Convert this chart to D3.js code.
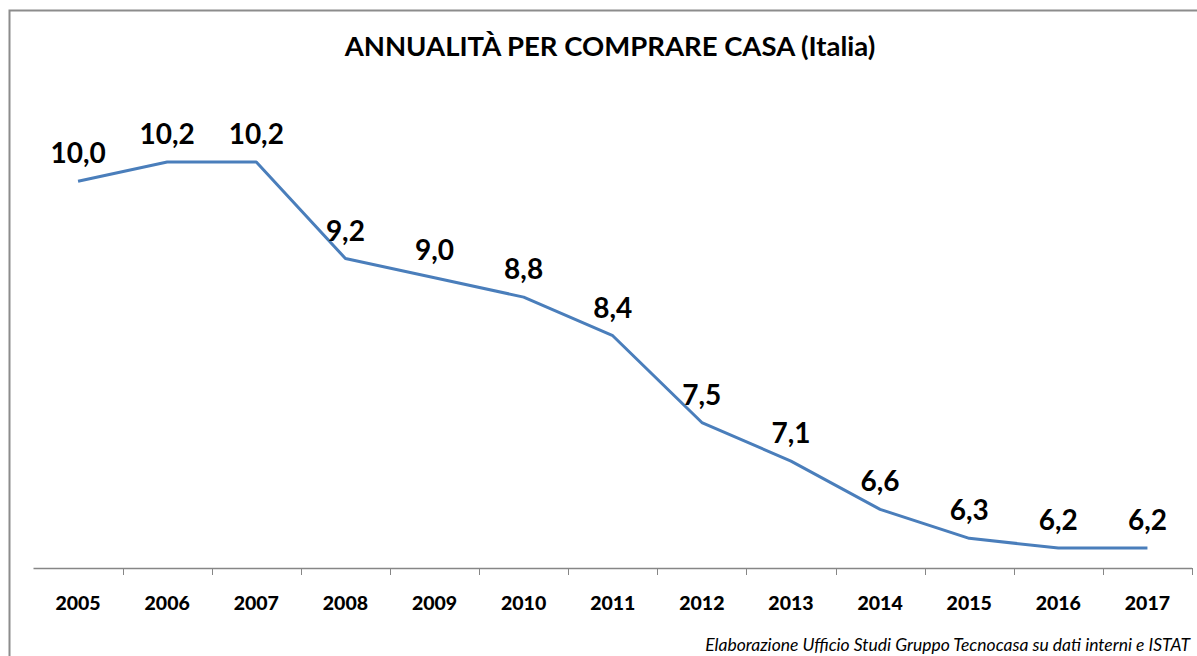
<!DOCTYPE html>
<html><head><meta charset="utf-8">
<script src="https://cdn.jsdelivr.net/npm/d3@7"></script>
<style>html,body{margin:0;padding:0;background:#fff;}svg{display:block;}</style>
</head><body>
<svg id="c" width="1197" height="656"></svg>
<script>
const years = ["2005","2006","2007","2008","2009","2010","2011","2012","2013","2014","2015","2016","2017"];
const values = [10.0,10.2,10.2,9.2,9.0,8.8,8.4,7.5,7.1,6.6,6.3,6.2,6.2];
const labels = ["10,0","10,2","10,2","9,2","9,0","8,8","8,4","7,5","7,1","6,6","6,3","6,2","6,2"];
const title = "ANNUALITÀ PER COMPRARE CASA (Italia)";
const source = "Elaborazione Ufficio Studi Gruppo Tecnocasa su dati interni e ISTAT";

const svg = d3.select("#c");
const font = "Lato, 'Open Sans', sans-serif";

// frame
svg.append("rect").attr("x",9.5).attr("y",10.5).attr("width",1200).attr("height",700)
  .attr("fill","none").attr("stroke","#8c8c8c").attr("stroke-width",2);

const x = d3.scaleBand().domain(years).range([33.5,1192]);
const y = d3.scaleLinear().domain([6.0,10.6]).range([567.3,567.3-4.6*96.5]);

const gx = svg.append("g").attr("transform","translate(0,568)");
gx.append("line").attr("x1",33.5).attr("x2",1192).attr("y1",0.5).attr("y2",0.5).attr("stroke","#868686").attr("stroke-width",1.5);
const bounds = years.map(d=>x(d)).concat([x(years[years.length-1])+x.bandwidth()]);
gx.selectAll("line.t").data(bounds.slice(1)).enter().append("line").attr("class","t")
  .attr("x1",d=>Math.round(d)+0.5).attr("x2",d=>Math.round(d)+0.5).attr("y1",0).attr("y2",7)
  .attr("stroke","#868686").attr("stroke-width",1);
gx.selectAll("text.yl").data(years).enter().append("text").attr("class","yl")
  .attr("x",d=>x(d)+x.bandwidth()/2).attr("y",42)
  .attr("text-anchor","middle").attr("font-family",font).attr("font-weight","900")
  .attr("font-size",19.5).attr("fill","#000").text(d=>d);

const line = d3.line().x((d,i)=>x(years[i])+x.bandwidth()/2).y(d=>y(d));
svg.append("path").datum(values).attr("d",line).attr("fill","none")
  .attr("stroke","#4a7ebb").attr("stroke-width",3).attr("stroke-linejoin","round");

svg.selectAll("text.v").data(values).enter().append("text").attr("class","v")
  .attr("x",(d,i)=>x(years[i])+x.bandwidth()/2).attr("y",d=>y(d)-18)
  .attr("text-anchor","middle").attr("font-family",font).attr("font-weight","bold")
  .attr("font-size",28).attr("fill","#000").text((d,i)=>labels[i]);

svg.append("text").attr("x",610).attr("y",56).attr("text-anchor","middle")
  .attr("font-family",font).attr("font-weight","bold").attr("font-size",27.5).attr("fill","#000").text(title);

svg.append("text").attr("x",1190).attr("y",651).attr("text-anchor","end")
  .attr("font-family",font).attr("font-style","italic").attr("font-size",17.5).attr("fill","#000").text(source);
</script>
</body></html>
